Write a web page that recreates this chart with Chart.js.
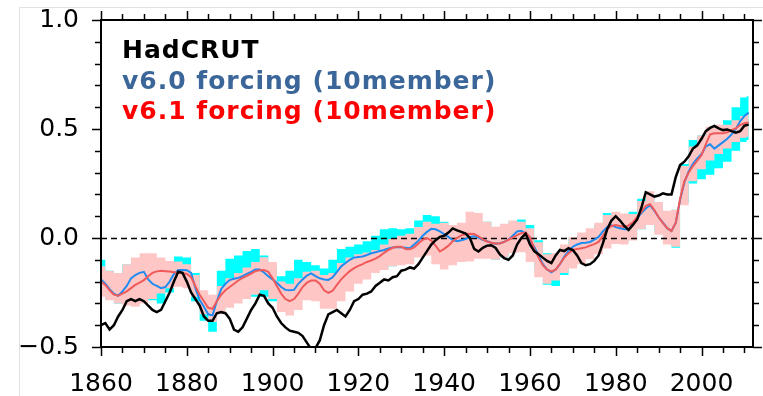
<!DOCTYPE html>
<html>
<head>
<meta charset="utf-8">
<script src="https://cdn.jsdelivr.net/npm/chart.js@4"></script>
<style>
  html, body { margin: 0; padding: 0; background: #fff; }
  #wrap { width: 763px; height: 396px; }
</style>
</head>
<body>
<div id="wrap"><canvas id="chart" width="763" height="396"></canvas></div>
<script>
/* ── Data ────────────────────────────────────────────────────────────────── */
const YEARS      = Array.from({ length: 152 }, (_, i) => 1860 + i);                 // 1860–2011
const BAND_YEARS = Array.from({ length: 76 }, (_, i) => 1860 + 2 * i).concat(2011);  // 2-yr blocks
const X_TICKS    = [1860, 1880, 1900, 1920, 1940, 1960, 1980, 2000];
const Y_TICKS    = [-0.5, 0, 0.5, 1.0];

// HadCRUT observed anomaly (annual)
const hadcrut = [
  -0.40, -0.39, -0.42, -0.40, -0.36, -0.33, -0.29, -0.28, -0.29, -0.28,
  -0.29, -0.31, -0.33, -0.34, -0.33, -0.29, -0.25, -0.20, -0.155, -0.16,
  -0.20, -0.25, -0.28, -0.31, -0.36, -0.38, -0.38, -0.345, -0.34, -0.345,
  -0.37, -0.42, -0.43, -0.41, -0.37, -0.33, -0.30, -0.26, -0.265, -0.30,
  -0.32, -0.36, -0.39, -0.41, -0.425, -0.43, -0.435, -0.45, -0.48, -0.51,
  -0.505, -0.47, -0.40, -0.35, -0.34, -0.33, -0.345, -0.36, -0.33, -0.29,
  -0.28, -0.26, -0.255, -0.245, -0.22, -0.205, -0.19, -0.195, -0.18, -0.175,
  -0.15, -0.145, -0.135, -0.14, -0.12, -0.09, -0.06, -0.03, -0.01, 0.005,
  0.01, 0.025, 0.044, 0.035, 0.028, 0.02, 0.0, -0.05, -0.062, -0.045,
  -0.035, -0.033, -0.046, -0.075, -0.092, -0.10, -0.08, -0.03, 0.0, 0.02,
  -0.03, -0.06, -0.075, -0.09, -0.105, -0.115, -0.08, -0.055, -0.06, -0.047,
  -0.055, -0.08, -0.115, -0.125, -0.12, -0.105, -0.08, -0.025, 0.04, 0.08,
  0.10, 0.08, 0.055, 0.037, 0.06, 0.085, 0.14, 0.21, 0.20, 0.19,
  0.195, 0.205, 0.20, 0.20, 0.28, 0.335, 0.35, 0.375, 0.41, 0.425,
  0.455, 0.49, 0.505, 0.514, 0.503, 0.495, 0.498, 0.49, 0.483, 0.49, 0.515, 0.52
];

// v6.0 forcing ensemble mean (annual)
const v60Mean = [
  -0.19, -0.21, -0.235, -0.255, -0.265, -0.245, -0.22, -0.185, -0.17, -0.16,
  -0.155, -0.19, -0.21, -0.22, -0.23, -0.225, -0.20, -0.165, -0.147, -0.147,
  -0.148, -0.16, -0.23, -0.285, -0.315, -0.35, -0.355, -0.29, -0.235, -0.21,
  -0.193, -0.187, -0.183, -0.175, -0.165, -0.155, -0.145, -0.145, -0.158, -0.175,
  -0.19, -0.205, -0.225, -0.238, -0.24, -0.238, -0.21, -0.19, -0.172, -0.162,
  -0.175, -0.185, -0.19, -0.192, -0.18, -0.155, -0.13, -0.115, -0.10, -0.09,
  -0.087, -0.085, -0.078, -0.07, -0.065, -0.06, -0.055, -0.048, -0.043, -0.042,
  -0.043, -0.045, -0.047, -0.03, -0.012, 0.01, 0.028, 0.042, 0.04, 0.03,
  0.018, 0.005, -0.01, -0.015, -0.01, -0.005, 0.005, 0.008, 0.002, -0.008,
  -0.015, -0.022, -0.026, -0.024, -0.018, -0.008, 0.01, 0.03, 0.033, 0.02,
  -0.01, -0.04, -0.08, -0.12, -0.145, -0.157, -0.145, -0.12, -0.085, -0.06,
  -0.04, -0.03, -0.023, -0.022, -0.018, -0.008, 0.005, 0.03, 0.05, 0.058,
  0.05, 0.045, 0.04, 0.04, 0.065, 0.09, 0.115, 0.135, 0.15, 0.125,
  0.095, 0.07, 0.045, 0.032, 0.07, 0.175, 0.255, 0.305, 0.34, 0.365,
  0.385, 0.42, 0.43, 0.41, 0.425, 0.44, 0.455, 0.475, 0.50, 0.535, 0.56, 0.575
];

// v6.1 forcing ensemble mean (annual)
const v61Mean = [
  -0.20, -0.215, -0.24, -0.26, -0.265, -0.255, -0.245, -0.23, -0.215, -0.205,
  -0.193, -0.175, -0.16, -0.153, -0.15, -0.152, -0.154, -0.157, -0.16, -0.161,
  -0.165, -0.18, -0.22, -0.26, -0.29, -0.32, -0.325, -0.29, -0.26, -0.24,
  -0.225, -0.21, -0.195, -0.183, -0.174, -0.163, -0.152, -0.148, -0.147, -0.155,
  -0.185, -0.22, -0.255, -0.28, -0.29, -0.28, -0.255, -0.225, -0.205, -0.195,
  -0.195, -0.21, -0.24, -0.252, -0.242, -0.215, -0.19, -0.17, -0.152, -0.138,
  -0.128, -0.12, -0.11, -0.103, -0.095, -0.083, -0.068, -0.055, -0.045, -0.04,
  -0.04, -0.05, -0.052, -0.043, -0.025, -0.008, 0.0, -0.012, -0.035, -0.062,
  -0.05, -0.035, -0.015, 0.0, 0.012, 0.018, 0.02, 0.018, 0.008, -0.006,
  -0.016, -0.022, -0.025, -0.025, -0.018, -0.008, 0.003, 0.013, 0.022, 0.025,
  0.003, -0.05, -0.09, -0.125, -0.145, -0.153, -0.145, -0.118, -0.09, -0.07,
  -0.055, -0.05, -0.047, -0.043, -0.035, -0.028, -0.018, 0.01, 0.04, 0.055,
  0.06, 0.055, 0.05, 0.058, 0.072, 0.097, 0.12, 0.148, 0.155, 0.128,
  0.095, 0.068, 0.045, 0.032, 0.07, 0.18, 0.26, 0.30, 0.33, 0.355,
  0.38, 0.43, 0.475, 0.48, 0.48, 0.48, 0.485, 0.495, 0.503, 0.518, 0.527, 0.53
];

// ensemble spread (2-year blocks, BAND_YEARS)
const v60Hi = [
  -0.10, -0.15, -0.16, -0.12, -0.10, -0.11, -0.13, -0.15, -0.12, -0.085,
  -0.09, -0.16, -0.26, -0.27, -0.15, -0.095, -0.08, -0.06, -0.05, -0.08,
  -0.13, -0.175, -0.15, -0.10, -0.11, -0.125, -0.14, -0.10, -0.05, -0.04,
  -0.03, -0.015, 0.01, 0.04, 0.045, 0.04, 0.045, 0.08, 0.105, 0.10,
  0.075, 0.05, 0.045, 0.06, 0.065, 0.075, 0.05, 0.05, 0.075, 0.085,
  0.06, -0.01, -0.07, -0.08, -0.045, 0.0, 0.02, 0.02, 0.06, 0.115,
  0.11, 0.10, 0.12, 0.18, 0.20, 0.165, 0.12, 0.13, 0.34, 0.45,
  0.47, 0.49, 0.51, 0.54, 0.60, 0.645, 0.65
];
const v60Lo = [
  -0.25, -0.28, -0.30, -0.28, -0.245, -0.25, -0.285, -0.30, -0.25, -0.21,
  -0.22, -0.29, -0.38, -0.43, -0.33, -0.29, -0.275, -0.27, -0.27, -0.27,
  -0.29, -0.30, -0.30, -0.27, -0.24, -0.23, -0.24, -0.23, -0.19, -0.16,
  -0.145, -0.135, -0.13, -0.14, -0.13, -0.115, -0.105, -0.08, -0.05, -0.05,
  -0.065, -0.08, -0.07, -0.06, -0.07, -0.09, -0.10, -0.09, -0.06, -0.04,
  -0.07, -0.15, -0.215, -0.22, -0.17, -0.11, -0.085, -0.06, -0.04, -0.02,
  -0.015, -0.02, 0.0, 0.04, 0.06, 0.03, -0.01, -0.045, 0.16, 0.25,
  0.27, 0.29, 0.32, 0.35, 0.40, 0.44, 0.45
];
const v61Hi = [
  -0.13, -0.15, -0.16, -0.12, -0.09, -0.07, -0.07, -0.09, -0.105, -0.108,
  -0.12, -0.17, -0.24, -0.26, -0.22, -0.185, -0.16, -0.135, -0.11, -0.088,
  -0.11, -0.20, -0.21, -0.185, -0.155, -0.15, -0.17, -0.16, -0.115, -0.09,
  -0.075, -0.066, -0.055, -0.03, -0.005, 0.01, 0.02, 0.05, 0.075, 0.065,
  0.07, 0.06, 0.07, 0.12, 0.115, 0.075, 0.052, 0.065, 0.08, 0.075,
  0.045, -0.02, -0.075, -0.07, -0.03, 0.003, 0.025, 0.045, 0.07, 0.105,
  0.12, 0.112, 0.11, 0.17, 0.215, 0.165, 0.125, 0.13, 0.33, 0.42,
  0.47, 0.51, 0.52, 0.52, 0.54, 0.56, 0.572
];
const v61Lo = [
  -0.27, -0.285, -0.30, -0.31, -0.315, -0.30, -0.28, -0.255, -0.23, -0.224,
  -0.23, -0.27, -0.35, -0.385, -0.35, -0.32, -0.30, -0.28, -0.26, -0.24,
  -0.28, -0.34, -0.355, -0.33, -0.285, -0.29, -0.325, -0.325, -0.29, -0.245,
  -0.21, -0.19, -0.16, -0.147, -0.13, -0.125, -0.12, -0.09, -0.08, -0.12,
  -0.145, -0.125, -0.11, -0.108, -0.095, -0.095, -0.10, -0.088, -0.07, -0.065,
  -0.11, -0.18, -0.21, -0.195, -0.16, -0.14, -0.12, -0.097, -0.075, -0.048,
  -0.028, -0.03, -0.012, 0.04, 0.06, 0.015, -0.03, -0.04, 0.15, 0.26,
  0.315, 0.355, 0.385, 0.41, 0.44, 0.46, 0.465
];

const LEGEND = [
  { text: 'HadCRUT',                 color: '#000000' },
  { text: 'v6.0 forcing (10member)', color: '#3b6699' },
  { text: 'v6.1 forcing (10member)', color: '#ff0000' },
];

/* ── Helpers ─────────────────────────────────────────────────────────────── */
const pts = (xs, ys) => xs.map((x, i) => ({ x, y: ys[i] }));
const fmtY = v => (v < 0 ? '\u2212' + Math.abs(v).toFixed(1) : v.toFixed(1));

const band = (ys, color, fill, order) => ({
  data: pts(BAND_YEARS, ys),
  stepped: 'middle',
  borderWidth: 0,
  pointRadius: 0,
  backgroundColor: color,
  fill,
  order,
});

const line = (ys, color, width, order) => ({
  data: pts(YEARS, ys),
  borderColor: color,
  borderWidth: width,
  pointRadius: 0,
  fill: false,
  tension: 0,
  order,
});

/* ── Frame, ticks, zero line, legend ─────────────────────────────────────── */
const framePlugin = {
  id: 'frame',
  afterDatasetDraw(chart, args) {
    if (args.index !== 3) return;          // right after the last band
    const { ctx, chartArea: a, scales: { y } } = chart;
    const y0 = Math.round(y.getPixelForValue(0)) + 0.5;
    ctx.save();
    ctx.strokeStyle = '#000';
    ctx.lineWidth = 1.5;
    ctx.setLineDash([6, 4]);
    ctx.beginPath();
    ctx.moveTo(a.left, y0);
    ctx.lineTo(a.right, y0);
    ctx.stroke();
    ctx.restore();
  },
  afterDraw(chart) {
    const { ctx, chartArea: a, scales: { x, y } } = chart;
    ctx.save();

    // faint outer border of the figure
    ctx.strokeStyle = '#e2e2e2';
    ctx.lineWidth = 1;
    ctx.beginPath();
    ctx.moveTo(19.5, chart.height);
    ctx.lineTo(19.5, 7.5);
    ctx.lineTo(chart.width, 7.5);
    ctx.stroke();

    // plot frame
    ctx.strokeStyle = '#000';
    ctx.lineWidth = 2;
    ctx.strokeRect(a.left, a.top, a.right - a.left, a.bottom - a.top);

    // tick marks, pointing outwards on all four sides
    ctx.lineWidth = 1.5;
    ctx.beginPath();
    for (let yr = 1860; yr <= 2010; yr += 5) {
      const px = Math.round(x.getPixelForValue(yr)) + 0.5;
      const len = yr % 20 === 0 ? 9 : 6;
      ctx.moveTo(px, a.bottom); ctx.lineTo(px, a.bottom + len);
      ctx.moveTo(px, a.top);    ctx.lineTo(px, a.top - len);
    }
    for (let k = -5; k <= 10; k++) {
      const py = Math.round(y.getPixelForValue(k / 10)) + 0.5;
      const len = k % 5 === 0 ? 9 : 6;
      ctx.moveTo(a.left, py);  ctx.lineTo(a.left - len, py);
      ctx.moveTo(a.right, py); ctx.lineTo(a.right + len, py);
    }
    ctx.stroke();

    // legend text
    ctx.font = 'bold 25px "DejaVu Sans"';
    ctx.letterSpacing = '1px';
    ctx.textAlign = 'left';
    ctx.textBaseline = 'alphabetic';
    LEGEND.forEach((item, i) => {
      ctx.fillStyle = item.color;
      ctx.fillText(item.text, 122, 58 + i * 30.5);
    });
    ctx.restore();
  }
};

/* ── Chart ───────────────────────────────────────────────────────────────── */
const chart = new Chart(document.getElementById('chart'), {
  type: 'line',
  data: {
    datasets: [
      band(v60Hi, '#00ffff', '+1', 6),
      band(v60Lo, '#00ffff', false, 5),
      band(v61Hi, '#ffc6c6', '+1', 4),
      band(v61Lo, '#ffc6c6', false, 3),
      line(v60Mean, '#1e8cf0', 2, 2),
      line(v61Mean, '#f05a5a', 2, 1),
      line(hadcrut, '#000000', 2.5, 0),
    ]
  },
  options: {
    responsive: false,
    animation: false,
    layout: { padding: { top: 20, right: 10, left: 0, bottom: 0 } },
    plugins: {
      legend: { display: false },
      tooltip: { enabled: false },
    },
    scales: {
      x: {
        type: 'linear',
        min: 1860,
        max: 2012,
        afterBuildTicks: axis => { axis.ticks = X_TICKS.map(value => ({ value })); },
        afterFit: axis => {
          axis.height = 49;
          axis.paddingLeft = 0;
          axis.paddingRight = 0;
        },
        grid: { display: false, drawTicks: false },
        border: { display: false },
        ticks: {
          autoSkip: false,
          maxRotation: 0,
          padding: 22,
          color: '#000',
          font: { family: 'DejaVu Sans', size: 25 },
          callback: v => String(v),
        }
      },
      y: {
        min: -0.5,
        max: 1.0,
        afterBuildTicks: axis => { axis.ticks = Y_TICKS.map(value => ({ value })); },
        afterFit: axis => {
          axis.width = 101;
          axis.paddingTop = 0;
          axis.paddingBottom = 0;
        },
        grid: { display: false, drawTicks: false },
        border: { display: false },
        ticks: {
          padding: 22,
          color: '#000',
          font: { family: 'DejaVu Sans', size: 25 },
          callback: v => fmtY(v),
        }
      }
    }
  },
  plugins: [framePlugin]
});
</script>
</body>
</html>
